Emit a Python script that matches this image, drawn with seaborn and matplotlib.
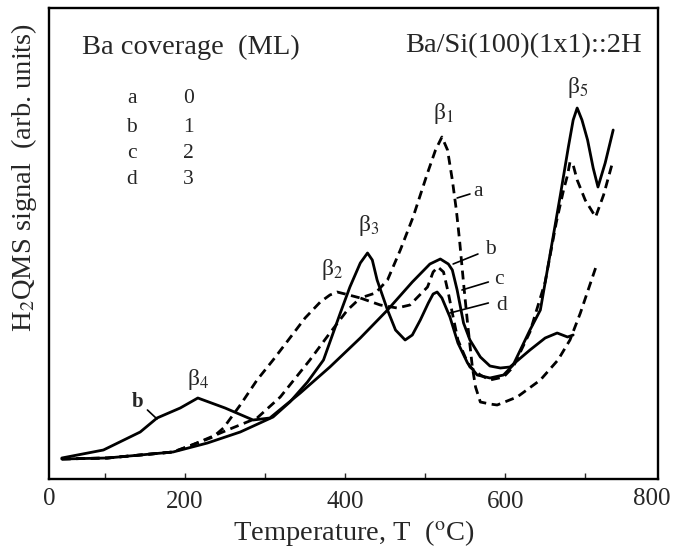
import matplotlib
matplotlib.use("Agg")
import matplotlib.pyplot as plt
import seaborn as sns
import pandas as pd

# ---- data (T in degC, signal in arb. units) ----
T_a = [46, 103, 185, 235, 248, 269, 290, 310, 331, 350, 369, 381, 390, 400, 419, 438, 453, 469,
       485, 503, 513, 521, 528, 534, 539, 543, 548, 553, 559, 563, 569, 581, 590, 615, 644, 666,
       681, 694, 713]
S_a = [20, 21, 27, 42, 51, 74, 99, 119, 141, 161, 177, 184, 187, 185, 181, 186, 199, 229,
       262, 306, 329, 342, 329, 299, 269, 239, 196, 156, 112, 92, 77, 75, 74, 82, 99, 119,
       139, 166, 211]

T_b = [46, 98, 144, 165, 194, 216, 250, 285, 306, 344, 381, 419, 453, 484, 506, 519, 529, 534,
       540, 548, 556, 569, 581, 594, 606, 631, 650, 665, 678, 685]
S_b = [21, 29, 47, 61, 71, 81, 71, 59, 61, 86, 112, 141, 169, 197, 215, 220, 215, 209,
       189, 156, 139, 122, 113, 111, 112, 129, 141, 146, 142, 144]

T_c = [46, 103, 185, 206, 253, 290, 319, 356, 381, 403, 419, 444, 465, 481, 503, 510, 516, 523,
       529, 535, 541, 550, 556, 569, 581, 598, 610, 631, 650, 664, 673, 678, 681, 685, 690,
       700, 713, 723, 734]
S_c = [20, 21, 27, 33, 49, 61, 82, 119, 146, 169, 181, 174, 171, 174, 192, 207, 212, 207,
       186, 162, 139, 122, 112, 104, 99, 102, 112, 147, 197, 257, 289, 304, 317, 314, 299,
       279, 262, 284, 316]

T_d = [46, 103, 185, 228, 269, 310, 331, 353, 373, 394, 406, 419, 428, 434, 440, 453, 463, 475,
       484, 494, 504, 510, 515, 521, 531, 541, 553, 565, 581, 598, 610, 631, 644, 656, 669,
       679, 685, 690, 696, 703, 710, 716, 725, 735]
S_d = [20, 21, 27, 36, 47, 62, 77, 97, 119, 166, 192, 216, 226, 219, 199, 169, 149, 139,
       144, 159, 176, 185, 187, 181, 162, 136, 116, 104, 101, 104, 114, 149, 169, 224, 284,
       332, 359, 371, 359, 339, 311, 292, 316, 349]

curve_names = ["a", "b", "c", "d"]
coverages = ["0", "1", "2", "3"]
beta_labels = ["β$_1$", "β$_2$", "β$_3$", "β$_4$", "β$_5$"]
beta_T = [523, 384, 429, 216, 691]
beta_S = [366, 209, 254, 99, 392]
xtick_major = [200, 400, 600]
xtick_minor = [100, 300, 500, 700]

# ---- style ----
sns.set_theme(style="ticks")
plt.rcParams["font.family"] = ["Liberation Serif", "DejaVu Serif"]
plt.rcParams["mathtext.fontset"] = "stix"

frames = []
for name, T, S in zip(curve_names, [T_a, T_b, T_c, T_d], [S_a, S_b, S_c, S_d]):
    frames.append(pd.DataFrame({"T": T, "S": S, "curve": name}))
df = pd.concat(frames, ignore_index=True)

fig = plt.figure(figsize=(6.75, 5.5), dpi=100)
ax = fig.add_axes([49 / 675, 1 - 479 / 550, 609 / 675, 471 / 550])

dash = (3.2, 2.0)
sns.lineplot(data=df, x="T", y="S", hue="curve", style="curve",
             palette={n: "black" for n in curve_names},
             dashes={"a": dash, "b": "", "c": dash, "d": ""},
             estimator=None, sort=False, legend=False, linewidth=2.0, ax=ax)

ax.set_xlim(30, 791)
ax.set_ylim(0, 471)
ax.set_yticks([])
ax.set_xticks(xtick_major)
ax.set_xticklabels([str(v) for v in xtick_major])
ax.set_xticks(xtick_minor, minor=True)
ax.tick_params(axis="x", which="both", direction="in", length=4, width=1.0,
               labelsize=18, pad=9, top=False)
for sp in ax.spines.values():
    sp.set_visible(True)
    sp.set_linewidth(1.7)
    sp.set_color("black")

# edge tick labels "0" and "800" sit at the frame edges in the reference
ax.text(0.0, -0.042, "0", transform=ax.transAxes, ha="center", va="center", fontsize=18)
ax.text(0.99, -0.042, "800", transform=ax.transAxes, ha="center", va="center", fontsize=18)

ax.set_xlabel("Temperature, T  ($^{\\rm o}$C)", fontsize=20.5, va="center")
ax.xaxis.set_label_coords(0.5, -0.115)
ax.set_ylabel("H$_2$QMS signal  (arb. units)", fontsize=20.5, va="center")
ax.yaxis.set_label_coords(-0.041, 0.64)

# header texts
ax.text(0.054, 0.917, "Ba coverage  (ML)", transform=ax.transAxes, ha="left", va="center",
        fontsize=20.5)
ax.text(0.974, 0.921, "Ba/Si(100)(1x1)::2H", transform=ax.transAxes, ha="right", va="center",
        fontsize=20.5)
legend_y = [0.807, 0.747, 0.692, 0.635]
for n, c, yy in zip(curve_names, coverages, legend_y):
    ax.text(0.136, yy, n, transform=ax.transAxes, ha="center", va="center", fontsize=15.5)
    ax.text(0.229, yy, c, transform=ax.transAxes, ha="center", va="center", fontsize=15.5)

for lab, t, s in zip(beta_labels, beta_T, beta_S):
    ax.text(t, s, lab, ha="center", va="center", fontsize=17)

# curve labels with leader lines
lead = dict(arrowstyle="-", color="black", lw=1.2, shrinkA=0, shrinkB=0)
ax.annotate("", xy=(540, 281), xytext=(556, 285), arrowprops=lead)
ax.text(566, 287, "a", ha="center", va="center", fontsize=15.5)
ax.annotate("", xy=(535, 215), xytext=(566, 225), arrowprops=lead)
ax.text(582, 229, "b", ha="center", va="center", fontsize=15.5)
ax.annotate("", xy=(546, 189), xytext=(579, 197), arrowprops=lead)
ax.text(592, 200, "c", ha="center", va="center", fontsize=15.5)
ax.annotate("", xy=(531, 166), xytext=(579, 176), arrowprops=lead)
ax.text(595, 174, "d", ha="center", va="center", fontsize=15.5)
ax.annotate("", xy=(165, 60), xytext=(153, 69), arrowprops=lead)
ax.text(141, 77, "b", ha="center", va="center", fontsize=15, fontweight="bold")

fig.savefig("out.png", dpi=100)
